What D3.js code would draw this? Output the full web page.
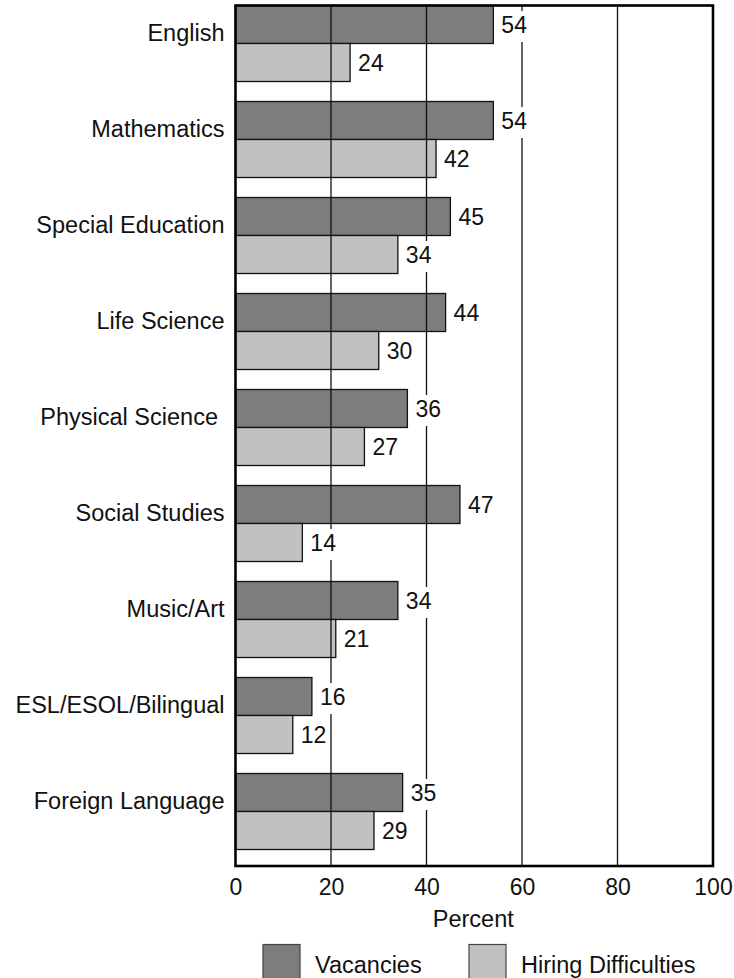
<!DOCTYPE html>
<html>
<head>
<meta charset="utf-8">
<script src="https://cdn.jsdelivr.net/npm/d3@7"></script>
<style>
  html, body { margin: 0; padding: 0; background: #fff; }
  svg { display: block; font-family: "Liberation Sans", Arial, Helvetica, sans-serif; }
  text { white-space: pre; }
</style>
</head>
<body>
<svg id="chart" width="734" height="978"></svg>
<script>
const categories = ["English", "Mathematics", "Special Education", "Life Science", "Physical Science ", "Social Studies", "Music/Art", "ESL/ESOL/Bilingual", "Foreign Language"];
const vacancies = [54, 54, 45, 44, 36, 47, 34, 16, 35];
const hiringDifficulties = [24, 42, 34, 30, 27, 14, 21, 12, 29];
const seriesNames = ["Vacancies", "Hiring Difficulties"];
const seriesColors = ["#7d7d7d", "#c1c1c1"];
const xTicks = [0, 20, 40, 60, 80, 100];
const gridValues = [20, 40, 60, 80];
const axisTitle = "Percent";

(function () {
const svg = d3.select("#chart");
const pLeft = 235.5, pRight = 713, pTop = 5.5, pBottom = 866;
const FS = 23.5;

const x = d3.scaleLinear().domain([0, 100]).range([pLeft, pRight]);
const y = d3.scaleBand().domain(categories).range([pTop, pTop + 96 * categories.length]).padding(0);
const barH = y.bandwidth() * 38 / 96;

const rows = categories.map((c, i) => ({ c, vals: [vacancies[i], hiringDifficulties[i]] }));

// bars
const g = svg.append("g");
rows.forEach(r => {
  r.vals.forEach((v, s) => {
    g.append("rect")
      .attr("x", x(0))
      .attr("y", y(r.c) + s * barH)
      .attr("width", x(v) - x(0))
      .attr("height", barH)
      .attr("fill", seriesColors[s])
      .attr("stroke", "#111")
      .attr("stroke-width", 1.3);
  });
});

// gridlines
svg.append("g").selectAll("line").data(gridValues).join("line")
  .attr("x1", d => x(d)).attr("x2", d => x(d))
  .attr("y1", pTop).attr("y2", pBottom)
  .attr("stroke", "#111").attr("stroke-width", 1.3);

// value labels with white backgrounds
const lg = svg.append("g");
rows.forEach(r => {
  r.vals.forEach((v, s) => {
    const cy = y(r.c) + s * barH + barH / 2;
    const t = lg.append("text")
      .attr("x", x(v) + 8)
      .attr("y", cy + 8.5)
      .attr("font-size", 23)
      .attr("fill", "#111")
      .text(v);
    const bb = t.node().getBBox();
    lg.insert("rect", () => t.node())
      .attr("x", bb.x - 3).attr("y", bb.y - 1)
      .attr("width", bb.width + 6).attr("height", bb.height + 5)
      .attr("fill", "#fff");
  });
});

// frame
svg.append("rect")
  .attr("x", pLeft).attr("y", pTop)
  .attr("width", pRight - pLeft).attr("height", pBottom - pTop)
  .attr("fill", "none").attr("stroke", "#000").attr("stroke-width", 2.6);

// category labels
svg.append("g").selectAll("text").data(categories).join("text")
  .attr("x", 224.5)
  .attr("y", d => y(d) + barH - 3)
  .attr("text-anchor", "end")
  .attr("font-size", FS)
  .attr("fill", "#111")
  .text(d => d);

// x axis tick labels
const xAxis = d3.axisBottom(x).tickValues(xTicks).tickSize(0).tickPadding(0).tickFormat(d3.format("d"));
const ax = svg.append("g").attr("transform", `translate(0,${pBottom})`).call(xAxis);
ax.select(".domain").remove();
ax.selectAll("text")
  .attr("font-size", 23)
  .attr("font-family", '"Liberation Sans", Arial, Helvetica, sans-serif')
  .attr("fill", "#111")
  .attr("dy", null)
  .attr("y", 29);

svg.append("text")
  .attr("x", (pLeft + pRight) / 2 - 1)
  .attr("y", 927)
  .attr("text-anchor", "middle")
  .attr("font-size", FS)
  .attr("fill", "#111")
  .text(axisTitle);

// legend
const legendX = [263, 469];
seriesNames.forEach((n, i) => {
  svg.append("rect")
    .attr("x", legendX[i]).attr("y", 944.5)
    .attr("width", 37).attr("height", 40)
    .attr("fill", seriesColors[i])
    .attr("stroke", "#444").attr("stroke-width", 1.2);
  svg.append("text")
    .attr("x", legendX[i] + 52).attr("y", 973)
    .attr("font-size", FS)
    .attr("fill", "#111")
    .text(n);
});
})();
</script>
</body>
</html>
